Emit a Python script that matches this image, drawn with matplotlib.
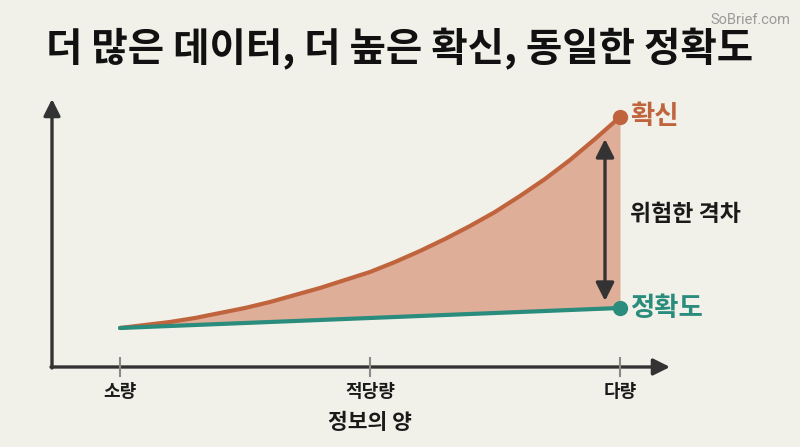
import matplotlib

matplotlib.use("Agg")
import matplotlib.pyplot as plt
import numpy as np

plt.rcParams["font.family"] = ["Noto Sans CJK KR", "DejaVu Sans"]

BG = "#f2f1e9"
CONF_COLOR = "#c0643e"
ACC_COLOR = "#2a8c7c"
FILL_COLOR = "#dfae99"
INK = "#1a1a1a"

# amount of information (0 = 소량, 1 = 다량)
x = [0.0, 0.05, 0.1, 0.15, 0.2, 0.25, 0.3, 0.35, 0.4, 0.45, 0.5,
     0.55, 0.6, 0.65, 0.7, 0.75, 0.8, 0.85, 0.9, 0.95, 1.0]
confidence = [39, 42, 45, 49, 54, 59, 65, 72, 79, 87, 95,
              105, 116, 128, 141, 155, 171, 188, 207, 228, 250]
acc_x = [0.0, 1.0]
accuracy = [39, 59]

tick_pos = [0.0, 0.5, 1.0]
tick_labels = ["소량", "적당량", "다량"]

fig = plt.figure(figsize=(8, 4.47), dpi=100, facecolor=BG)
ax = fig.add_axes([0.065, 0.179, 0.7725, 0.6085])
ax.set_facecolor(BG)
ax.set_xlim(-0.136, 1.1)
ax.set_ylim(0, 272)
ax.axis("off")

# axes with arrows
arrow = dict(arrowstyle="-|>,head_length=1.0,head_width=0.5", color="#333333", lw=2.4,
             shrinkA=0, shrinkB=0)
ax.annotate("", xy=(-0.136, 268), xytext=(-0.136, -1), arrowprops=arrow, annotation_clip=False)
ax.annotate("", xy=(1.1, 0), xytext=(-0.138, 0), arrowprops=arrow, annotation_clip=False)

for p, lab in zip(tick_pos, tick_labels):
    ax.plot([p, p], [-9, 9], color="#8a8a8a", lw=1.5, clip_on=False, zorder=3)
    ax.text(p, -25, lab, ha="center", va="center", fontsize=13, fontweight="bold", color=INK)
ax.text(0.5, -56, "정보의 양", ha="center", va="center", fontsize=15.5, fontweight="bold",
        color=INK)

# gap between confidence and accuracy
acc_on_x = np.interp(x, acc_x, accuracy)
ax.fill_between(x, acc_on_x, confidence, color=FILL_COLOR, lw=0, zorder=1)
ax.plot(x, confidence, color=CONF_COLOR, lw=3, solid_capstyle="round",
        solid_joinstyle="round", zorder=2)
ax.plot(acc_x, accuracy, color=ACC_COLOR, lw=3, solid_capstyle="round", zorder=2)
ax.plot([1.0], [confidence[-1]], "o", color=CONF_COLOR, ms=10, zorder=4, clip_on=False)
ax.plot([1.0], [accuracy[-1]], "o", color=ACC_COLOR, ms=10, zorder=4, clip_on=False)

ax.annotate("", xy=(0.97, 228), xytext=(0.97, 66),
            arrowprops=dict(arrowstyle="<|-|>,head_length=1.1,head_width=0.55",
                            color="#333333", lw=2.4, shrinkA=0, shrinkB=0))

ax.text(1.02, 250, "확신", ha="left", va="center", fontsize=19, fontweight="bold",
        color=CONF_COLOR)
ax.text(1.02, 58, "정확도", ha="left", va="center", fontsize=19, fontweight="bold",
        color=ACC_COLOR)
ax.text(1.02, 152, "위험한 격차", ha="left", va="center", fontsize=16.5, fontweight="bold",
        color=INK)

fig.text(0.5, 0.89, "더 많은 데이터, 더 높은 확신, 동일한 정확도", ha="center", va="center",
         fontsize=28.5, fontweight="heavy", color="#111111")
fig.text(0.988, 0.955, "SoBrief.com", ha="right", va="center", fontsize=10.5,
         color="#9a9a9a", family=["Roboto", "DejaVu Sans"])

fig.savefig("out.png", dpi=100, facecolor=BG)
